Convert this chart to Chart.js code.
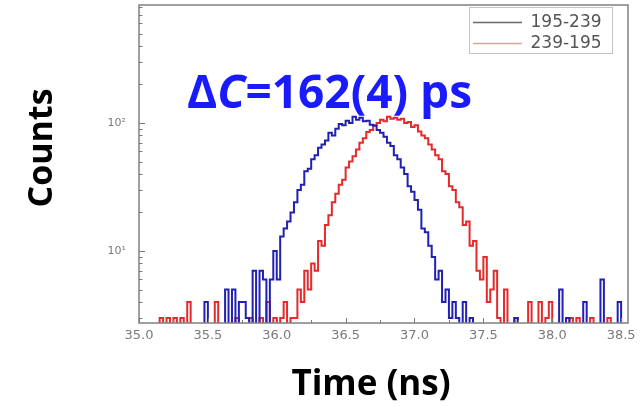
<!DOCTYPE html>
<html><head><meta charset="utf-8">
<script src="https://cdn.jsdelivr.net/npm/chart.js@4.4.0/dist/chart.umd.min.js"></script>
<style>html,body{margin:0;padding:0;background:#fff;}#wrap{width:640px;height:406px;}</style>
</head><body><div id="wrap"><canvas id="c" width="640" height="406"></canvas></div>
<script>
// ---- data ----
const binStart = 35.0;      // ns, first histogram bin
const binWidth = 0.025;     // ns
const seriesNames = ['195-239', '239-195'];
const counts195_239 = [
  1,1,1,1,1,1,1,1,1,1,
  1,1,1,1,1,1,1,1,1,1,
  4,1,1,1,1,1,5,1,5,1,
  4,4,3,1,7,1,7,6,1,6,
  10,6,13,15,17,20,24,30,33,42,
  44,52,56,64,68,73,84,80,90,98,
  96,104,100,112,106,110,103,104,97,95,
  88,84,78,70,66,56,52,45,40,32,
  29,25,21,15,14,11,9,6,7,4,
  5,3,4,3,1,4,1,3,1,1,
  1,1,1,1,1,1,1,1,1,1,
  3,1,1,1,1,1,1,1,1,1,
  1,1,1,5,1,3,1,1,1,1,
  4,1,1,1,1,6,1,1,1,1,
  4,1
];
const counts239_195 = [
  1,1,1,1,1,1,1,3,1,3,
  1,3,1,3,1,4,1,1,1,1,
  1,1,1,4,1,1,1,1,1,3,
  1,1,1,3,1,1,3,1,4,1,
  3,1,3,4,1,3,3,5,4,7,
  5,8,7,12,11,16,19,24,28,33,
  36,45,50,55,62,70,76,85,88,96,
  100,106,103,112,108,110,106,108,100,102,
  93,96,86,80,76,68,62,56,52,42,
  40,32,30,24,22,16,17,11,12,7,
  6,9,4,5,7,3,1,5,1,1,
  3,1,1,1,4,1,1,4,1,3,
  4,1,1,1,1,1,3,1,3,1,
  1,1,3,1,1,1,1,3,1,1,
  1,1
];
const xTickValues = [35.0, 35.5, 36.0, 36.5, 37.0, 37.5, 38.0, 38.5];
const xMinorTicks = [35.25, 35.75, 36.25, 36.75, 37.25, 37.75, 38.25];
const yTickLabels = {10: '10\u00b9', 100: '10\u00b2'};
const yMinorTicks = [3,4,5,6,7,8,9,20,30,40,50,60,70,80,90,200,300,400,500,600,700,800];
const xTitle = 'Time (ns)';
const yTitle = 'Counts';
const annotationParts = [['\u0394', false], ['C', true], ['=162(4) ps', false]];

// ---- style ----
const lineColors = ['#2020b4', '#e42a2a'];
const legendColors = ['#6a6a6a', '#cfa8a0'];

function toPoints(arr) { return arr.map((v, i) => ({x: binStart + i * binWidth, y: v})); }

const decor = {
  id: 'decor',
  afterLayout(chart) {
    const lg = chart.legend;
    if (lg) { lg.left = 469; lg.top = 10; lg.right = 612; lg.bottom = 323; lg.width = 143; }
  },
  afterDraw(chart) {
    const {ctx, chartArea: a, scales: {x, y}} = chart;
    ctx.save();
    ctx.strokeStyle = '#7a7a7a'; ctx.lineWidth = 1;
    [10, 100].concat(yMinorTicks).forEach(v => {
      const py = Math.round(y.getPixelForValue(v)) + 0.5;
      const len = (v === 10 || v === 100) ? 6 : 3.5;
      ctx.beginPath(); ctx.moveTo(a.left, py); ctx.lineTo(a.left + len, py); ctx.stroke();
    });
    xTickValues.forEach(v => {
      const px = Math.round(x.getPixelForValue(v)) + 0.5;
      ctx.beginPath(); ctx.moveTo(px, a.bottom); ctx.lineTo(px, a.bottom - 5); ctx.stroke();
    });
    xMinorTicks.forEach(v => {
      const px = Math.round(x.getPixelForValue(v)) + 0.5;
      ctx.beginPath(); ctx.moveTo(px, a.bottom); ctx.lineTo(px, a.bottom - 3); ctx.stroke();
    });
    ctx.strokeStyle = '#808080'; ctx.lineWidth = 1.5;
    ctx.strokeRect(a.left, a.top, a.right - a.left, a.bottom - a.top);
    ctx.strokeStyle = '#c4c4c4'; ctx.lineWidth = 1;
    ctx.strokeRect(469.5, 7.5, 143, 46);
    ctx.fillStyle = '#000';
    ctx.font = 'bold 35px "Open Sans"';
    ctx.textAlign = 'center'; ctx.textBaseline = 'alphabetic';
    ctx.fillText(xTitle, 371, 395);
    ctx.save(); ctx.translate(52, 148); ctx.rotate(-Math.PI / 2);
    ctx.font = 'bold 34px "Open Sans"';
    ctx.fillText(yTitle, 0, 0); ctx.restore();
    ctx.fillStyle = '#1a1aff'; ctx.textAlign = 'left';
    let cx = 187;
    annotationParts.forEach(([t, it]) => {
      ctx.font = (it ? 'italic ' : '') + 'bold 46px "Open Sans"';
      ctx.fillText(t, cx, 108);
      cx += ctx.measureText(t).width;
    });
    ctx.restore();
  }
};

new Chart(document.getElementById('c'), {
  type: 'line',
  data: {
    datasets: [
      {label: seriesNames[0], data: toPoints(counts195_239), borderColor: lineColors[0], borderWidth: 2, stepped: 'after', pointRadius: 0, fill: false, order: 0},
      {label: seriesNames[1], data: toPoints(counts239_195), borderColor: lineColors[1], borderWidth: 2, stepped: 'after', pointRadius: 0, fill: false, order: 1}
    ]
  },
  options: {
    responsive: false, animation: false, devicePixelRatio: 1,
    layout: {padding: {top: 5, right: 12, bottom: 0, left: 0}},
    plugins: {
      tooltip: {enabled: false},
      legend: {
        display: true, position: 'chartArea', align: 'start',
        labels: {
          usePointStyle: true, pointStyle: 'line', pointStyleWidth: 49, padding: 4,
          color: '#555', font: {family: 'DejaVu Sans', size: 17},
          generateLabels: () => seriesNames.map((n, i) => ({
            text: n, strokeStyle: legendColors[i], fillStyle: legendColors[i], lineWidth: 1.5,
            pointStyle: 'line', hidden: false, datasetIndex: i, fontColor: '#555'
          }))
        }
      }
    },
    scales: {
      x: {
        type: 'linear', min: 35.0, max: 38.55,
        afterFit(s) { s.height = 83; s.paddingLeft = 0; s.paddingRight = 0; },
        afterBuildTicks(s) { s.ticks = xTickValues.map(v => ({value: v})); },
        grid: {display: false, drawTicks: false}, border: {display: false},
        ticks: {padding: 5, color: '#7a7a7a', font: {family: 'DejaVu Sans', size: 13}, maxRotation: 0, autoSkip: false,
                callback: v => Number(v).toFixed(1)}
      },
      y: {
        type: 'logarithmic', min: 2.74, max: 835,
        afterFit(s) { s.width = 139; s.paddingTop = 0; s.paddingBottom = 0; },
        afterBuildTicks(s) { s.ticks = Object.keys(yTickLabels).map(v => ({value: Number(v)})); },
        grid: {display: false, drawTicks: false}, border: {display: false},
        ticks: {padding: 13, color: '#7a7a7a', font: {family: 'DejaVu Sans', size: 11}, autoSkip: false,
                callback: v => yTickLabels[v] || ''}
      }
    }
  },
  plugins: [decor]
});
</script></body></html>
